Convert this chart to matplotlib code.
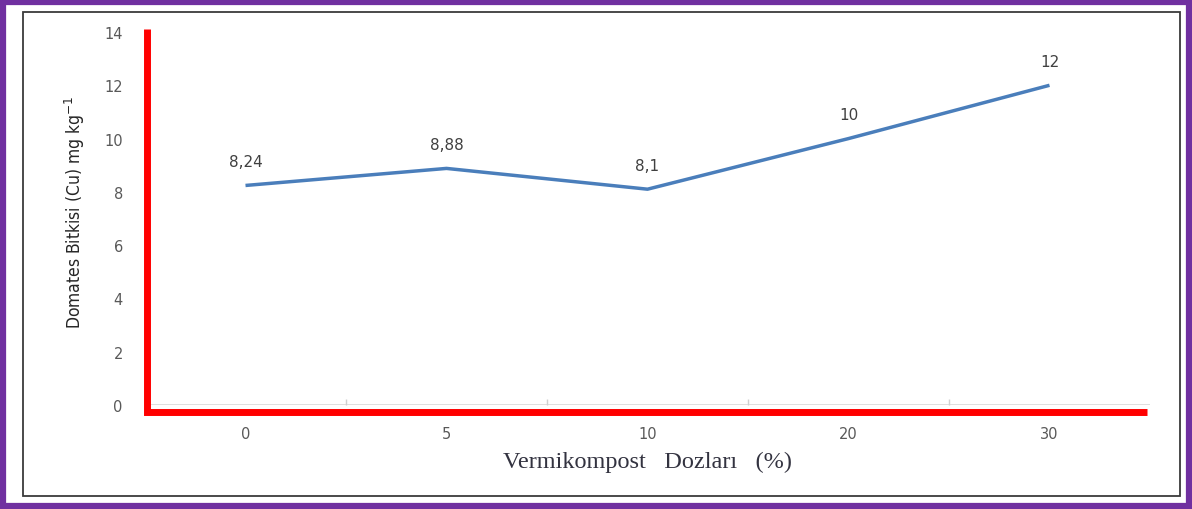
import matplotlib
matplotlib.use('Agg')
import matplotlib.pyplot as plt
from matplotlib.patches import Rectangle

# data
doses = ['0', '5', '10', '20', '30']
cu_values = [8.24, 8.88, 8.1, 10, 12]
y_ticks = [0, 2, 4, 6, 8, 10, 12, 14]

fig = plt.figure(figsize=(11.92, 5.10), dpi=100)
fig.patch.set_facecolor('white')

# outer purple frame and inner dark frame
fig.add_artist(Rectangle((0.0025, 0.005), 0.995, 0.99, transform=fig.transFigure,
                         fill=False, edgecolor='#7030A0', linewidth=4.5))
fig.add_artist(Rectangle((23 / 1192, 1 - 497 / 510), (1180 - 23) / 1192, (497 - 13) / 510,
                         transform=fig.transFigure, fill=False, edgecolor='#3a3a3a', linewidth=1.3))

ax = fig.add_axes([145 / 1192, 1 - 406 / 510, (1150 - 145) / 1192, (406 - 33) / 510])
x = list(range(len(doses)))
ax.plot(x, cu_values, color='#4A7EBB', linewidth=2.5, solid_capstyle='butt', zorder=3)

for xi, v in zip(x, cu_values):
    txt = ('%g' % v).replace('.', ',')
    ax.annotate(txt, (xi, v), xytext=(0, 17), textcoords='offset points',
                ha='center', va='center', fontsize=11, color='#404040',
                family='DejaVu Sans')

ax.set_xlim(-0.5, len(doses) - 0.5)
ax.set_ylim(0, 14)
ax.set_xticks(x)
ax.set_xticklabels(doses, family='DejaVu Sans', fontsize=10.5, color='#595959')
ax.set_yticks(y_ticks)
ax.set_yticklabels([str(t) for t in y_ticks], family='DejaVu Sans', fontsize=10.5, color='#595959')
ax.tick_params(axis='both', length=0)
ax.tick_params(axis='x', pad=15)
ax.tick_params(axis='y', pad=16)
ax.set_xticks([i + 0.5 for i in range(len(doses) - 1)], minor=True)
ax.tick_params(axis='x', which='minor', direction='in', length=4, color='#d0d0d0', width=1)

for s in ax.spines.values():
    s.set_visible(False)
ax.axhline(0, color='#d9d9d9', linewidth=1.2, zorder=1)

# red L shaped axes lines
off = 7 / 373
ax.plot([0.0015, 0.0015, 0.997], [1.008, -off, -off], color='#FF0000', linewidth=5,
        transform=ax.transAxes, clip_on=False, solid_joinstyle='miter',
        solid_capstyle='butt', zorder=4)

ax.set_xlabel('Vermikompost   Dozları   (%)', family='Liberation Serif', fontsize=17.5,
              color='#333340', labelpad=7)
fig.text(75 / 1192, 1 - 212 / 510, 'Domates Bitkisi (Cu) mg kg$^{-1}$', rotation=90,
         ha='center', va='center', fontsize=12.5, color='#262626',
         family='DejaVu Sans', fontstretch='condensed')

fig.savefig('out.png', dpi=100)
